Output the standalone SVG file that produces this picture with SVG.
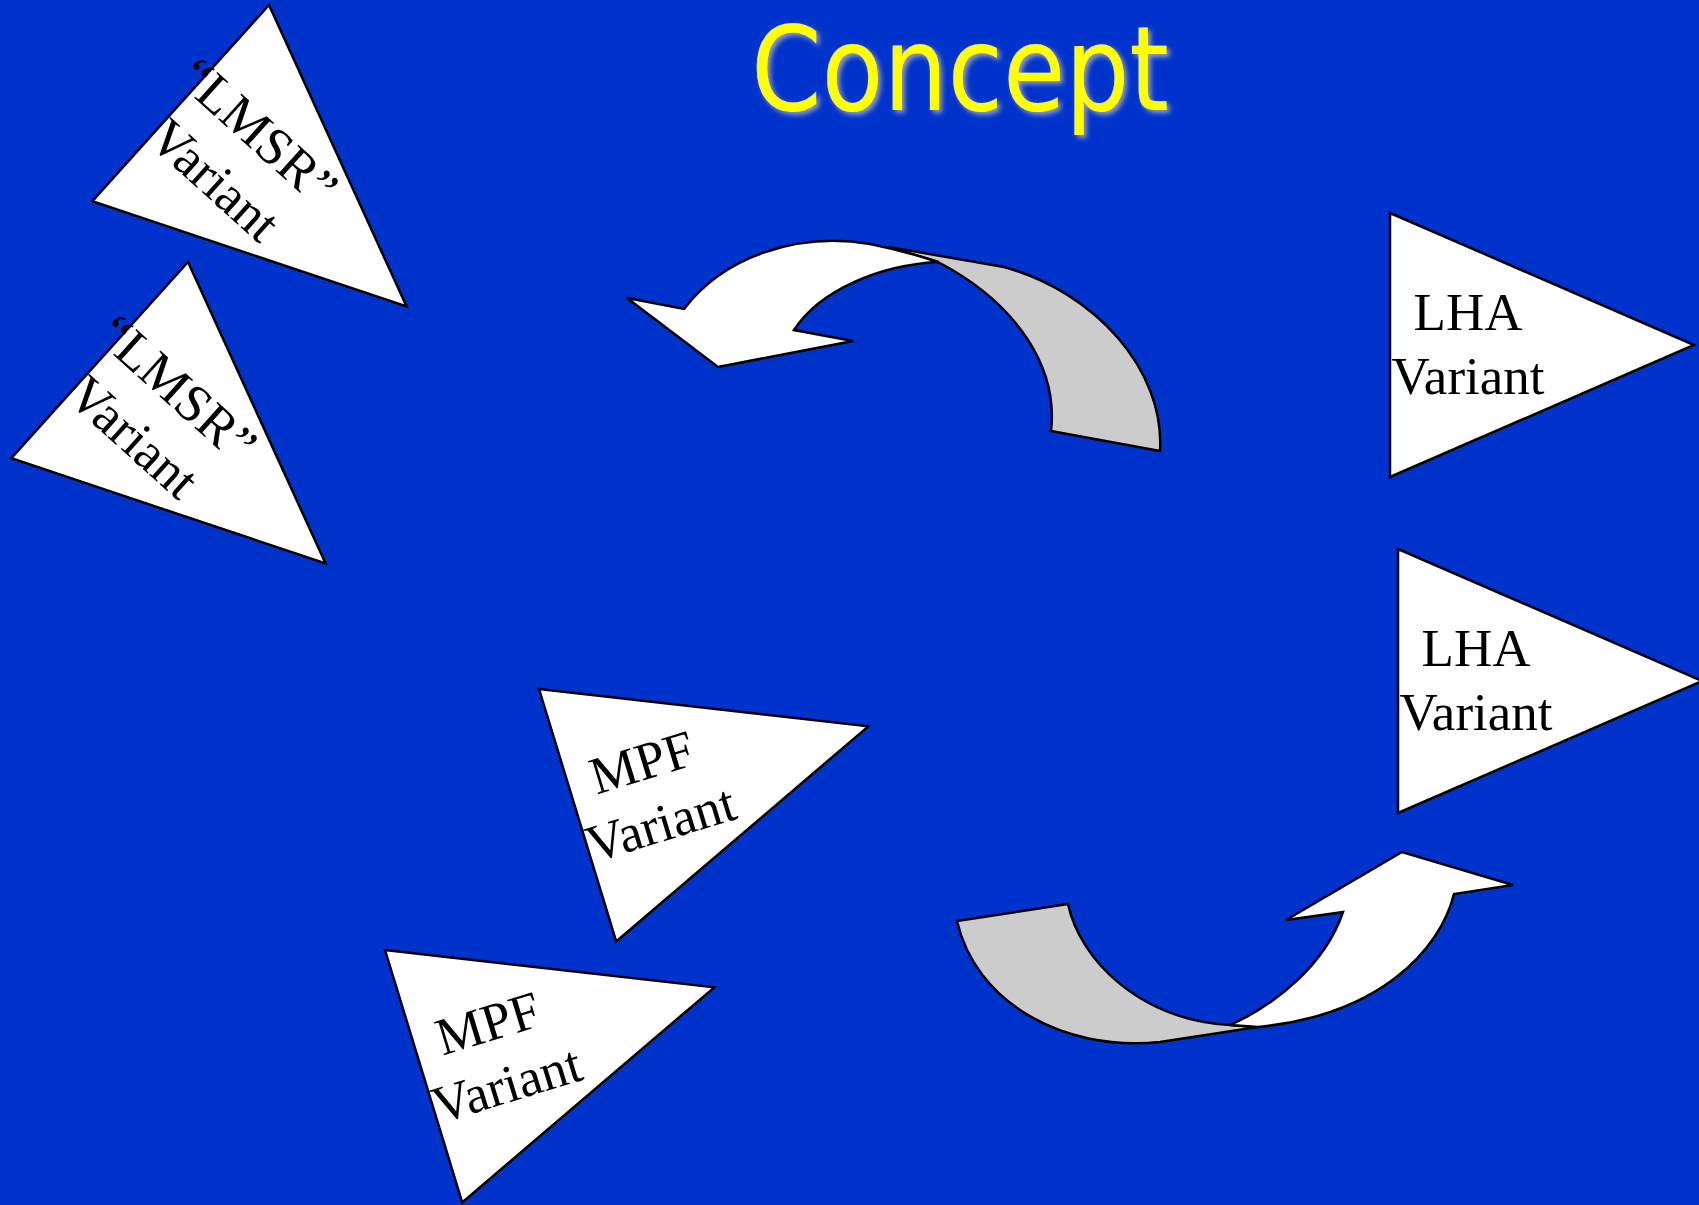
<svg xmlns="http://www.w3.org/2000/svg" width="1699" height="1205" viewBox="0 0 1699 1205">
<defs>
<style>
.tri{fill:#ffffff;stroke:#000000;stroke-width:2.5;stroke-linejoin:miter}
.lbl{font-family:"Liberation Serif","Times New Roman",serif;font-size:53px;fill:#000000;text-anchor:middle}
.face{fill:#ffffff;stroke:#000000;stroke-width:2.5;stroke-linejoin:miter}
.back{fill:#cccccc;stroke:#000000;stroke-width:2.5;stroke-linejoin:miter}
.title{font-family:"DejaVu Sans","Liberation Sans",sans-serif;font-size:117px;fill:#ffff00}
</style>
<filter id="glow" filterUnits="userSpaceOnUse" x="700" y="0" width="520" height="160">
<feDropShadow dx="3" dy="3" stdDeviation="2.5" flood-color="#a0a8c8" flood-opacity="0.9"/>
</filter>
<polygon id="tri" points="0,0 0,264 304,132"/>
</defs>
<rect x="0" y="0" width="1699" height="1205" fill="#0033cc"/>

<text class="title" x="751" y="110" textLength="418" lengthAdjust="spacingAndGlyphs" filter="url(#glow)">Concept</text>

<g id="connectors">
<g id="arrow-top">
<path class="back" d="M889,247 L1004,267 C1095,292 1165,370 1160,451 L1051,431 C1058,370 1020,305 938,262 Z"/>
<path class="face" d="M627,298 L684,309 C725,255 800,232 870,244 Q905,251 938,262 C880,265 820,290 794,330 L853,341 L718,367 Z"/>
</g>
<g id="arrow-bottom">
<path class="back" d="M957,921 L1068,904 C1080,960 1140,1020 1230,1025 L1258,1027 L1160,1042 C1060,1052 975,1000 957,921 Z"/>
<path class="face" d="M1230,1025 C1275,1005 1325,965 1343,912 L1286,920 L1402,852 L1513,885 L1454,894 C1440,950 1380,1015 1258,1027 Z"/>
</g>
</g>

<g id="lmsr-1" transform="translate(269,5) rotate(42)">
<use href="#tri" class="tri"/>
<text class="lbl" x="77" y="119">“LMSR”</text>
<text class="lbl" x="77" y="184">Variant</text>
</g>
<g id="lmsr-2" transform="translate(188,262) rotate(42)">
<use href="#tri" class="tri"/>
<text class="lbl" x="77" y="119">“LMSR”</text>
<text class="lbl" x="77" y="184">Variant</text>
</g>

<g id="lha-1" transform="translate(1390,213)">
<use href="#tri" class="tri"/>
<text class="lbl" x="78" y="117">LHA</text>
<text class="lbl" x="78" y="181">Variant</text>
</g>
<g id="lha-2" transform="translate(1398,549)">
<use href="#tri" class="tri"/>
<text class="lbl" x="78" y="117">LHA</text>
<text class="lbl" x="78" y="181">Variant</text>
</g>

<g id="mpf-1" transform="translate(539,689) rotate(-17)">
<use href="#tri" class="tri"/>
<text class="lbl" x="77" y="118">MPF</text>
<text class="lbl" x="77" y="182">Variant</text>
</g>
<g id="mpf-2" transform="translate(385,950) rotate(-17)">
<use href="#tri" class="tri"/>
<text class="lbl" x="77" y="118">MPF</text>
<text class="lbl" x="77" y="182">Variant</text>
</g>
</svg>
